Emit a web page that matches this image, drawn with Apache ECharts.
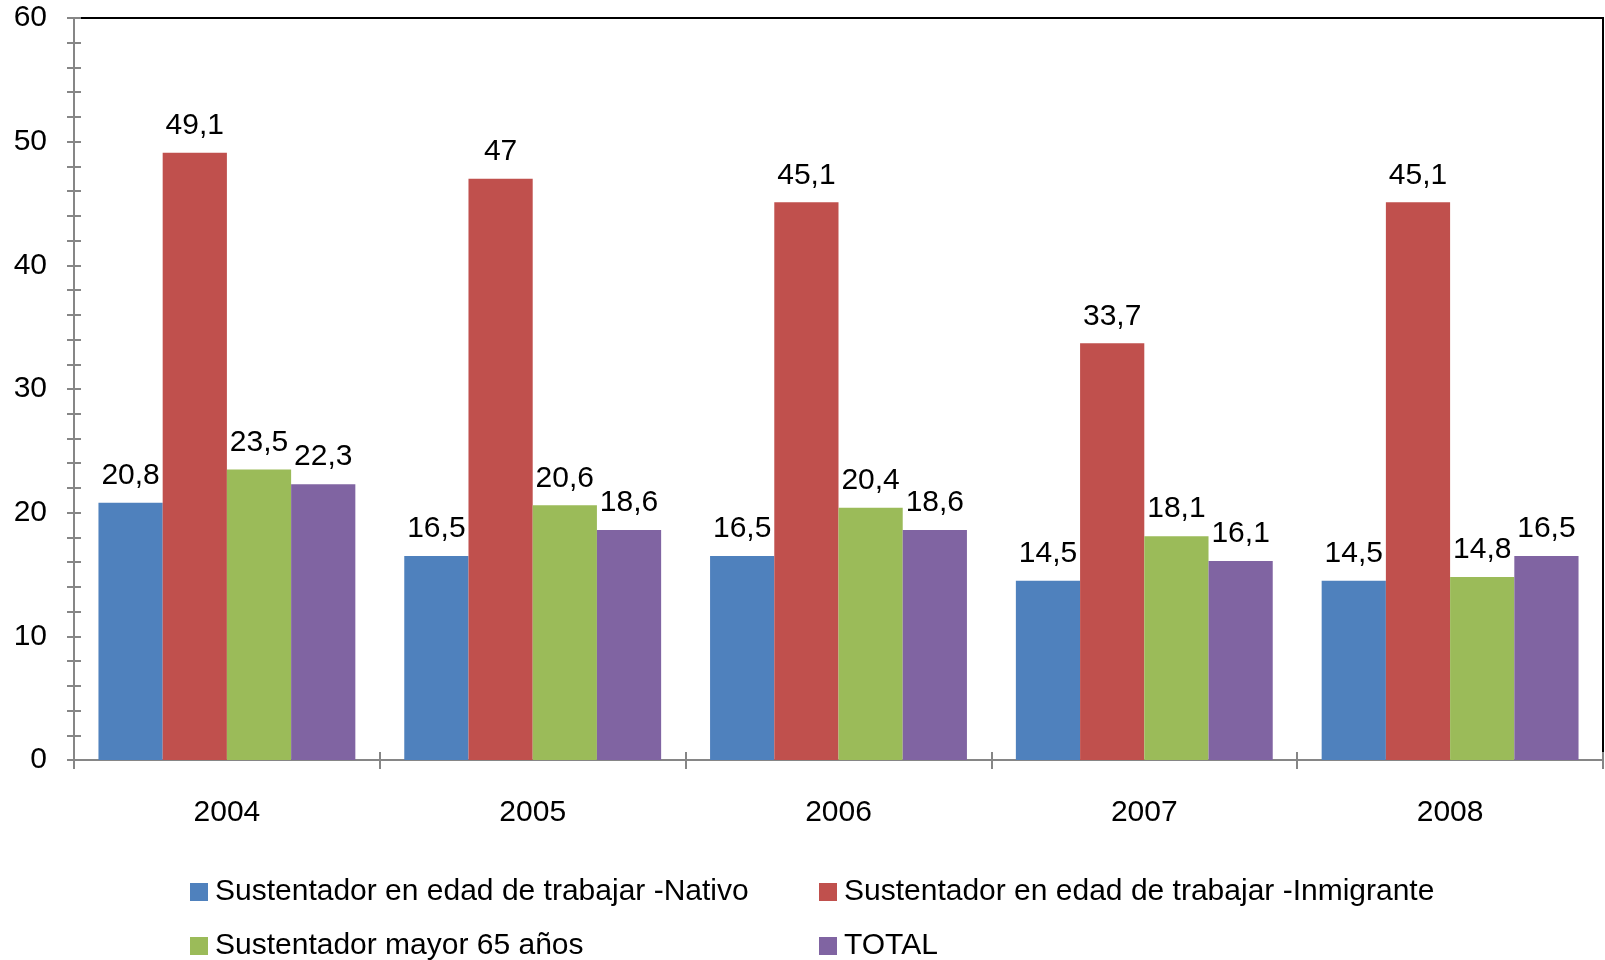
<!DOCTYPE html>
<html>
<head>
<meta charset="utf-8">
<script src="https://cdn.jsdelivr.net/npm/echarts@6/dist/echarts.min.js"></script>
<style>
  html, body { margin: 0; padding: 0; background: #fff; }
  #chart { width: 1605px; height: 960px; }
</style>
</head>
<body>
<div id="chart"></div>
<script>
// años (categorías)
const years = ["2004", "2005", "2006", "2007", "2008"];
// nombres de las series
const seriesNames = [
  "Sustentador en edad de trabajar -Nativo",
  "Sustentador en edad de trabajar -Inmigrante",
  "Sustentador mayor 65 años",
  "TOTAL"
];
// valores
const nativo = [20.8, 16.5, 16.5, 14.5, 14.5];
const inmigrante = [49.1, 47, 45.1, 33.7, 45.1];
const mayor65 = [23.5, 20.6, 20.4, 18.1, 14.8];
const total = [22.3, 18.6, 18.6, 16.1, 16.5];
const colors = ["#4F81BD", "#C0504D", "#9BBB59", "#8064A2"];

const chart = echarts.init(document.getElementById("chart"));
const font = "Liberation Sans, Arial, sans-serif";
const axisGray = "#868686";

const seriesArr = [nativo, inmigrante, mayor65, total].map((data, i) => {
  return {
    name: seriesNames[i],
    type: "bar",
    data: data,
    barGap: "0%",
    barCategoryGap: "16%",
    itemStyle: { color: colors[i] },
    label: {
      show: true,
      position: "top",
      distance: 12,
      fontFamily: font,
      fontSize: 30,
      color: "#000",
      formatter: (p) => String(p.value).replace(".", ",")
    }
  };
});

// leyenda: una por elemento para colocarlas en dos columnas
const legendPos = [
  { left: 190, top: 877 },
  { left: 819, top: 877 },
  { left: 190, top: 931 },
  { left: 819, top: 931 }
];
const legends = seriesNames.map((n, i) => ({
  data: [n],
  left: legendPos[i].left,
  top: legendPos[i].top,
  padding: 0,
  icon: "rect",
  itemWidth: 18,
  itemHeight: 18,
  itemGap: 6,
  textStyle: { fontFamily: font, fontSize: 30, color: "#000", padding: [0, 0, 0, 2] },
  selectedMode: false
}));

const option = {
  animation: false,
  backgroundColor: "#fff",
  grid: {
    left: 74, right: 2, top: 18, bottom: 200,
    show: true, borderColor: "#000", borderWidth: 2
  },
  legend: legends,
  xAxis: [
    {
      type: "category",
      data: years,
      axisLine: { lineStyle: { color: axisGray, width: 2 } },
      axisTick: { show: true, length: 9, lineStyle: { color: axisGray, width: 2 } },
      axisLabel: { fontFamily: font, fontSize: 30, color: "#000", margin: 38 }
    },
    {
      type: "category",
      data: years,
      position: "bottom",
      axisLine: { show: false },
      axisTick: { show: true, inside: true, length: 8, lineStyle: { color: axisGray, width: 2 } },
      axisLabel: { show: false }
    }
  ],
  yAxis: [
    {
      type: "value",
      min: 0, max: 60, interval: 10,
      splitLine: { show: false },
      axisLine: { show: true, lineStyle: { color: axisGray, width: 2 } },
      axisTick: { show: true, length: 7, lineStyle: { color: axisGray, width: 2 } },
      minorTick: { show: true, splitNumber: 5, length: 7, lineStyle: { color: axisGray, width: 2 } },
      axisLabel: { fontFamily: font, fontSize: 30, color: "#000", margin: 27 }
    },
    {
      type: "value",
      position: "left",
      min: 0, max: 60, interval: 10,
      splitLine: { show: false },
      axisLine: { show: false },
      axisTick: { show: true, inside: true, length: 7, lineStyle: { color: axisGray, width: 2 } },
      minorTick: { show: true, splitNumber: 5, length: 7, lineStyle: { color: axisGray, width: 2 } },
      axisLabel: { show: false }
    }
  ],
  series: seriesArr
};
chart.setOption(option);
</script>
</body>
</html>
